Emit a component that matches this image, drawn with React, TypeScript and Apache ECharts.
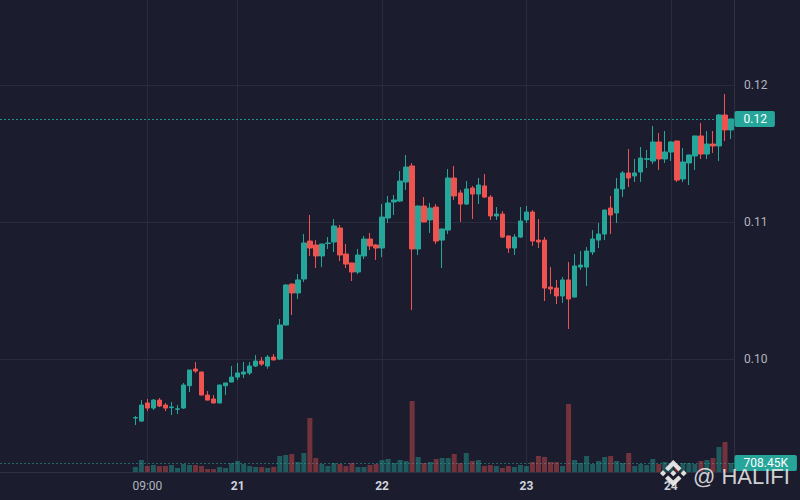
import React, { useEffect, useRef } from 'react';
import * as echarts from 'echarts';

// hourly slots: first slot is day 19 09:00, last is day 24 10:00
const START_DAY = 19;
const START_HOUR = 9;
const SLOT_COUNT = 122;
const LEAD_EMPTY = 22; // empty slots before the first candle (day 20 07:00)

const TICK_CATEGORIES = ['20 09:00', '21 00:00', '22 00:00', '23 00:00', '24 00:00'];
const TICK_LABELS = ['09:00', '21', '22', '23', '24'];

const OPEN = [0.09569,0.09547,0.09679,0.09642,0.09700,0.09664,0.09645,0.09633,0.09642,0.09805,
0.09927,0.09905,0.09737,0.09708,0.09679,0.09805,0.09832,0.09868,0.09890,0.09898,
0.09949,0.09985,0.09949,0.10014,0.10000,0.10248,0.10547,0.10482,0.10584,0.10861,
0.10832,0.10752,0.10843,0.10854,0.10956,0.10766,0.10701,0.10635,0.10752,0.10876,
0.10832,0.10810,0.11029,0.11146,0.11153,0.11292,0.11409,0.10803,0.11117,0.11015,
0.11109,0.10868,0.10941,0.11321,0.11212,0.11131,0.11248,0.11204,0.11263,0.11182,
0.11044,0.11058,0.10898,0.10810,0.10890,0.11015,0.11073,0.10868,0.10868,0.10525,
0.10518,0.10460,0.10577,0.10452,0.10671,0.10671,0.10781,0.10868,0.10912,0.11102,
0.11066,0.11241,0.11358,0.11336,0.11365,0.11458,0.11445,0.11584,0.11460,0.11511,
0.11591,0.11314,0.11431,0.11482,0.11628,0.11496,0.11569,0.11555,0.11781,0.11672];

const CLOSE = [0.09572,0.09664,0.09642,0.09700,0.09657,0.09642,0.09650,0.09636,0.09810,0.09920,
0.09912,0.09737,0.09700,0.09679,0.09810,0.09825,0.09868,0.09898,0.09905,0.09949,
0.09985,0.09963,0.10014,0.09993,0.10248,0.10540,0.10482,0.10577,0.10847,0.10810,
0.10752,0.10839,0.10847,0.10971,0.10759,0.10693,0.10635,0.10759,0.10876,0.10825,
0.10810,0.11036,0.11139,0.11161,0.11299,0.11401,0.10803,0.11117,0.11000,0.11102,
0.10861,0.10949,0.11321,0.11190,0.11131,0.11241,0.11204,0.11270,0.11182,0.11044,
0.11058,0.10890,0.10810,0.10890,0.11007,0.11073,0.10861,0.10854,0.10518,0.10511,
0.10460,0.10577,0.10438,0.10679,0.10686,0.10788,0.10876,0.10912,0.11087,0.11051,
0.11241,0.11358,0.11321,0.11358,0.11467,0.11462,0.11584,0.11460,0.11511,0.11584,
0.11306,0.11438,0.11489,0.11628,0.11496,0.11569,0.11555,0.11781,0.11672,0.11752];

const LOW = [0.09518,0.09540,0.09620,0.09628,0.09649,0.09620,0.09591,0.09598,0.09635,0.09759,
0.09898,0.09735,0.09698,0.09676,0.09676,0.09737,0.09830,0.09847,0.09861,0.09883,
0.09941,0.09949,0.09929,0.09990,0.09993,0.10245,0.10321,0.10438,0.10562,0.10752,
0.10664,0.10671,0.10803,0.10781,0.10715,0.10664,0.10569,0.10620,0.10730,0.10796,
0.10723,0.10744,0.10993,0.11051,0.11146,0.11234,0.10357,0.10759,0.10998,0.10920,
0.10839,0.10664,0.10912,0.11161,0.11000,0.11124,0.11022,0.11131,0.11175,0.11015,
0.11015,0.10883,0.10774,0.10759,0.10883,0.10993,0.10825,0.10810,0.10423,0.10474,
0.10401,0.10409,0.10219,0.10450,0.10650,0.10533,0.10759,0.10810,0.10868,0.10912,
0.10993,0.11182,0.11255,0.11292,0.11292,0.11394,0.11423,0.11380,0.11431,0.11445,
0.11292,0.11292,0.11270,0.11380,0.11460,0.11460,0.11504,0.11445,0.11591,0.11606];

const HIGH = [0.09584,0.09700,0.09708,0.09708,0.09715,0.09679,0.09686,0.09664,0.09825,0.09920,
0.09978,0.09908,0.09766,0.09737,0.09812,0.09827,0.09949,0.09971,0.09978,0.09978,
0.10029,0.10014,0.10029,0.10036,0.10292,0.10547,0.10550,0.10620,0.10912,0.11051,
0.10868,0.10841,0.10890,0.11022,0.10978,0.10839,0.10703,0.10803,0.10898,0.10920,
0.10839,0.11131,0.11190,0.11197,0.11372,0.11489,0.11431,0.11119,0.11182,0.11139,
0.11131,0.10951,0.11387,0.11409,0.11234,0.11299,0.11263,0.11321,0.11350,0.11197,
0.11109,0.11080,0.10900,0.10912,0.11109,0.11117,0.11087,0.11022,0.10890,0.10671,
0.10577,0.10598,0.10708,0.10766,0.10788,0.10817,0.10941,0.10993,0.11090,0.11190,
0.11321,0.11372,0.11533,0.11460,0.11547,0.11526,0.11701,0.11650,0.11664,0.11591,
0.11594,0.11540,0.11491,0.11630,0.11723,0.11664,0.11664,0.11788,0.11934,0.11754];

// volume in thousands
const VOLUME_K = [392,946,471,553,468,475,549,318,628,556,
547,473,238,231,396,312,706,871,633,468,
399,388,321,402,1262,1341,1418,789,1496,4251,
1103,627,478,712,631,466,705,391,397,552,
624,941,1027,716,948,862,5589,1183,709,791,
1021,1106,1098,1421,703,1492,868,939,477,548,
469,317,473,394,551,466,786,1258,1186,792,
783,471,5352,944,713,1266,629,866,1179,1257,
869,706,1494,472,631,549,1024,627,788,702,
553,711,704,632,867,943,1101,1968,2361,708.45];

const PRICE_MIN = 0.091752;
const PRICE_MAX = 0.126204;
const VOLUME_AXIS_MAX = 37154;

const UP = '#26a69a';
const DOWN = '#ef5350';
const BG = '#1b1c2e';
const GRID = '#2a2b3d';

const BINANCE_PATH =
  'M38.73 53.2l24.59-24.58 24.6 24.6 14.3-14.31L63.32 0 24.42 38.9l14.31 14.3zM0 63.31l14.3-14.31 14.31 14.31-14.31 14.3zm38.73 10.11l24.59 24.59 24.6-24.6 14.31 14.29-38.9 38.91-38.91-38.88-.02-.02 14.33-14.29zm59.58-10.1l14.3-14.31 14.31 14.3-14.31 14.31zM77.83 63.3L63.32 48.78 52.59 59.51l-1.24 1.23-2.54 2.54-.02.02.02.02 14.51 14.52 14.51-14.52.01-.02-.01-.01z';

function buildCategories(): string[] {
  const out: string[] = [];
  for (let k = 0; k < SLOT_COUNT; k++) {
    const total = START_HOUR + k;
    const day = START_DAY + Math.floor(total / 24);
    const hour = total % 24;
    out.push(`${day} ${hour < 10 ? '0' + hour : hour}:00`);
  }
  return out;
}

export default function App() {
  const ref = useRef<HTMLDivElement>(null);

  useEffect(() => {
    if (!ref.current) return;
    echarts.graphic.registerShape('binanceLogo', echarts.graphic.extendPath(BINANCE_PATH, {}) as any);
    const chart = echarts.init(ref.current, null, { renderer: 'svg' });

    const categories = buildCategories();
    const candleData = categories.map((_, k) => {
      const i = k - LEAD_EMPTY;
      if (i < 0) return '-';
      return [OPEN[i], CLOSE[i], LOW[i], HIGH[i]];
    });
    const closeLine = categories.map((_, k) => {
      const i = k - LEAD_EMPTY;
      return i < 0 ? '-' : CLOSE[i];
    });
    const volData = categories.map((_, k) => {
      const i = k - LEAD_EMPTY;
      if (i < 0) return '-';
      const up = CLOSE[i] >= OPEN[i];
      return {
        value: VOLUME_K[i],
        itemStyle: { color: up ? 'rgba(38,166,154,0.45)' : 'rgba(239,83,80,0.42)' },
      };
    });
    const lastClose = CLOSE[CLOSE.length - 1];
    const lastVol = VOLUME_K[VOLUME_K.length - 1];

    const option: any = {
      animation: false,
      backgroundColor: BG,
      textStyle: { fontFamily: 'Roboto, "Noto Sans", sans-serif' },
      grid: { left: 0, right: 66, top: 0, bottom: 28 },
      xAxis: {
        type: 'category',
        data: categories,
        boundaryGap: true,
        axisLine: { show: true, lineStyle: { color: '#2f3142' } },
        axisTick: { show: false },
        splitLine: { show: false },
        axisLabel: {
          interval: (_: number, v: string) => TICK_CATEGORIES.indexOf(v) >= 0,
          margin: 8,
          formatter: (v: string) => {
            const i = TICK_CATEGORIES.indexOf(v);
            if (i < 0) return '';
            return i === 0 ? `{t|${TICK_LABELS[i]}}` : `{d|${TICK_LABELS[i]}}`;
          },
          rich: {
            t: { color: '#b2b5be', fontSize: 12 },
            d: { color: '#d1d4dc', fontSize: 12, fontWeight: 'bold' },
          },
        },
      },
      yAxis: [
        {
          type: 'value',
          position: 'right',
          min: PRICE_MIN,
          max: PRICE_MAX,
          splitNumber: 3,
          minInterval: 0.01,
          maxInterval: 0.01,
          axisLine: { show: true, lineStyle: { color: '#2f3142' } },
          axisTick: { show: false },
          axisLabel: {
            color: '#b2b5be',
            fontSize: 12,
            margin: 10,
            showMinLabel: false,
            showMaxLabel: false,
            formatter: (v: number) => v.toFixed(2),
          },
          splitLine: { show: true, showMinLine: false, showMaxLine: false, lineStyle: { color: GRID, width: 1 } },
        },
        {
          type: 'value',
          min: 0,
          max: VOLUME_AXIS_MAX,
          show: false,
          splitLine: { show: false },
        },
      ],
      series: [
        {
          // invisible carrier of the reference lines (day grid lines + last price)
          type: 'line',
          xAxisIndex: 0,
          yAxisIndex: 0,
          data: closeLine,
          showSymbol: false,
          symbol: 'none',
          silent: true,
          lineStyle: { opacity: 0, width: 0 },
          z: 1,
          markLine: {
            z: 1,
            silent: true,
            precision: 6,
            symbol: ['none', 'none'],
            data: [
              ...TICK_CATEGORIES.map((c) => ({
                xAxis: c,
                lineStyle: { color: GRID, type: 'solid', width: 1 },
                label: { show: false },
              })),
              {
                yAxis: lastClose,
                lineStyle: { color: 'rgba(38,166,154,0.85)', type: [2, 2], width: 1 },
                label: {
                  show: true,
                  position: 'end',
                  distance: 0.5,
                  formatter: lastClose.toFixed(2),
                  color: '#ffffff',
                  backgroundColor: UP,
                  padding: [2, 8, 2, 9],
                  lineHeight: 12,
                  fontSize: 12,
                  borderRadius: 2,
                },
              },
            ],
          },
        },
        {
          type: 'bar',
          xAxisIndex: 0,
          yAxisIndex: 1,
          data: volData,
          barWidth: 5,
          z: 2,
          markLine: {
            z: 1,
            silent: true,
            precision: 4,
            symbol: ['none', 'none'],
            data: [
              {
                yAxis: lastVol,
                lineStyle: { color: 'rgba(38,166,154,0.55)', type: [2, 2], width: 1 },
                label: {
                  show: true,
                  position: 'end',
                  distance: 0.5,
                  formatter: '708.45K',
                  color: '#ffffff',
                  backgroundColor: UP,
                  padding: [2, 9, 2, 9],
                  lineHeight: 12,
                  fontSize: 12,
                  borderRadius: 2,
                },
              },
            ],
          },
        },
        {
          type: 'candlestick',
          xAxisIndex: 0,
          yAxisIndex: 0,
          data: candleData,
          barWidth: 5,
          z: 3,
          itemStyle: {
            color: UP,
            color0: DOWN,
            borderColor: UP,
            borderColor0: DOWN,
            borderWidth: 1,
          },
        },
      ],
      graphic: [
        {
          type: 'binanceLogo',
          x: 660,
          y: 460,
          scaleX: 0.21,
          scaleY: 0.21,
          z: 100,
          style: { fill: 'rgba(236,236,236,0.92)', shadowBlur: 2, shadowColor: 'rgba(0,0,0,0.6)' },
        },
        {
          type: 'text',
          x: 693,
          y: 476,
          z: 100,
          style: {
            text: '@ HALIFI',
            fill: 'rgba(232,232,232,0.9)',
            font: '22px "Liberation Sans", Arial, sans-serif',
            verticalAlign: 'middle',
            shadowBlur: 2,
            shadowColor: 'rgba(0,0,0,0.6)',
          },
        },
      ],
    };

    chart.setOption(option);
    return () => chart.dispose();
  }, []);

  return (
    <div
      ref={ref}
      style={{ position: 'absolute', left: 0, top: 0, width: 800, height: 500 }}
    />
  );
}
